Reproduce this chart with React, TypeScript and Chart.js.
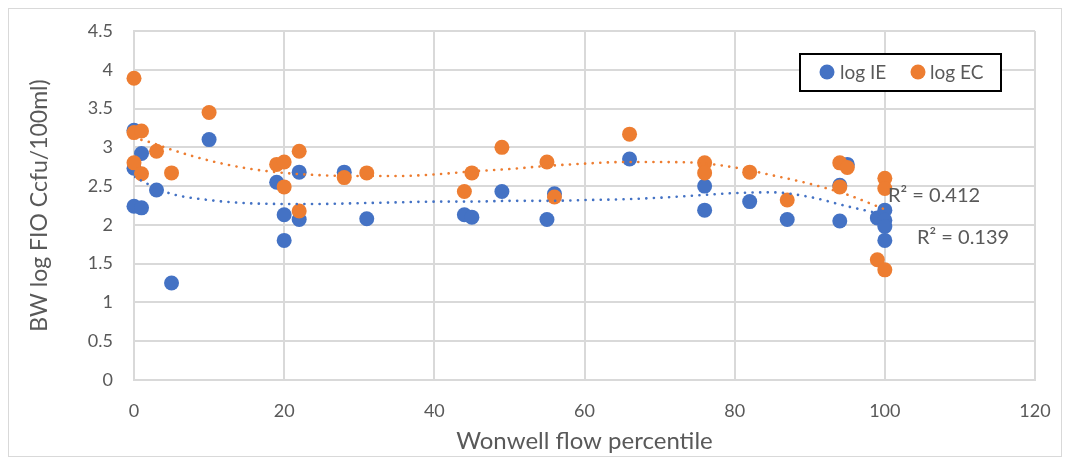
import React, { useEffect, useRef } from "react";
import { Chart, registerables } from "chart.js";

Chart.register(...registerables);

// ---- data ----
const ieX = [0, 0, 0, 1, 1, 3, 5, 10, 19, 20, 20, 22, 22, 28, 31, 44, 45, 49, 55, 56, 66, 76, 76, 82, 87, 94, 94, 95, 99, 100, 100, 100, 100];
const ieY = [3.22, 2.73, 2.24, 2.22, 2.92, 2.45, 1.25, 3.1, 2.55, 2.13, 1.8, 2.68, 2.07, 2.68, 2.08, 2.13, 2.1, 2.43, 2.07, 2.4, 2.85, 2.5, 2.19, 2.3, 2.07, 2.51, 2.05, 2.78, 2.09, 2.19, 2.06, 1.98, 1.8];

const ecX = [0, 0, 1, 0, 1, 3, 5, 10, 19, 20, 20, 22, 22, 28, 31, 44, 45, 49, 55, 56, 66, 76, 76, 82, 87, 94, 94, 95, 99, 100, 100, 100];
const ecY = [3.89, 3.19, 3.21, 2.8, 2.66, 2.95, 2.67, 3.45, 2.78, 2.81, 2.49, 2.95, 2.18, 2.61, 2.67, 2.43, 2.67, 3.0, 2.81, 2.36, 3.17, 2.8, 2.67, 2.68, 2.32, 2.8, 2.49, 2.74, 1.55, 2.6, 2.47, 1.42];

// trendline values
const trendX = [0, 2, 5, 10, 15, 20, 25, 30, 35, 40, 45, 50, 55, 60, 65, 70, 75, 80, 85, 90, 95, 100];
const ecTrend = [3.12, 3.07, 2.97, 2.83, 2.73, 2.67, 2.64, 2.63, 2.63, 2.65, 2.69, 2.72, 2.76, 2.79, 2.81, 2.81, 2.8, 2.74, 2.64, 2.53, 2.39, 2.2];
const ieTrend = [2.62, 2.52, 2.4, 2.32, 2.28, 2.27, 2.27, 2.28, 2.29, 2.3, 2.3, 2.31, 2.31, 2.32, 2.33, 2.35, 2.38, 2.41, 2.42, 2.36, 2.24, 2.13];

const yTickLabels = ["0", "0.5", "1", "1.5", "2", "2.5", "3", "3.5", "4", "4.5"];
const xTickLabels = ["0", "20", "40", "60", "80", "100", "120"];
const seriesNames = ["log IE", "log EC"];
const r2Labels = ["R\u00B2 = 0.412", "R\u00B2 = 0.139"];
const xTitle = "Wonwell flow percentile";
const yTitle = "BW log FIO Ccfu/100ml)";

const BLUE = "#4472C4";
const ORANGE = "#ED7D31";
const GRID = "#d9d9d9";
const TEXT = "#595959";
const FONT = "Lato, 'Open Sans', sans-serif";

const toPts = (xs: number[], ys: number[]) => xs.map((x, i) => ({ x, y: ys[i] }));

const overlayPlugin = {
  id: "overlay",
  afterDraw(chart: any) {
    const ctx = chart.ctx as CanvasRenderingContext2D;
    ctx.save();
    // legend box
    ctx.strokeStyle = "#000";
    ctx.lineWidth = 2;
    ctx.fillStyle = "#fff";
    ctx.fillRect(791, 45, 201, 37);
    ctx.strokeRect(791, 45, 201, 37);
    ctx.font = `19px ${FONT}`;
    ctx.textBaseline = "middle";
    ctx.textAlign = "left";
    const items = [
      { c: BLUE, cx: 818, tx: 831, label: seriesNames[0] },
      { c: ORANGE, cx: 909, tx: 921, label: seriesNames[1] },
    ];
    for (const it of items) {
      ctx.beginPath();
      ctx.fillStyle = it.c;
      ctx.arc(it.cx, 63, 7.5, 0, Math.PI * 2);
      ctx.fill();
      ctx.fillStyle = TEXT;
      ctx.fillText(it.label, it.tx, 64);
    }
    // R² labels
    ctx.font = `20px ${FONT}`;
    ctx.fillStyle = TEXT;
    ctx.fillText(r2Labels[0], 879, 187);
    ctx.fillText(r2Labels[1], 908, 229);
    ctx.restore();
  },
};

export default function App() {
  const ref = useRef<HTMLCanvasElement>(null);
  useEffect(() => {
    if (!ref.current) return;
    const chart = new Chart(ref.current, {
      type: "scatter",
      data: {
        datasets: [
          {
            type: "line",
            label: "trend EC",
            data: toPts(trendX, ecTrend),
            borderColor: ORANGE,
            borderWidth: 2.6,
            borderDash: [0.1, 7.5],
            borderCapStyle: "round",
            pointRadius: 0,
            fill: false,
            cubicInterpolationMode: "monotone",
            order: 0,
          } as any,
          {
            type: "line",
            label: "trend IE",
            data: toPts(trendX, ieTrend),
            borderColor: BLUE,
            borderWidth: 2.6,
            borderDash: [0.1, 7.5],
            borderCapStyle: "round",
            pointRadius: 0,
            fill: false,
            cubicInterpolationMode: "monotone",
            order: 1,
          } as any,
          {
            label: seriesNames[1],
            data: toPts(ecX, ecY),
            backgroundColor: ORANGE,
            borderColor: ORANGE,
            borderWidth: 0,
            pointRadius: 7.5,
            clip: false,
            order: 2,
          } as any,
          {
            label: seriesNames[0],
            data: toPts(ieX, ieY),
            backgroundColor: BLUE,
            borderColor: BLUE,
            borderWidth: 0,
            pointRadius: 7.5,
            clip: false,
            order: 3,
          } as any,
        ],
      },
      options: {
        responsive: false,
        animation: false,
        layout: { padding: { top: 22, right: 26, left: 0, bottom: 0 } },
        plugins: { legend: { display: false }, tooltip: { enabled: false } },
        scales: {
          x: {
            type: "linear",
            min: 0,
            max: 120,
            ticks: {
              stepSize: 20,
              color: TEXT,
              font: { family: FONT, size: 18 },
              padding: 20,
              callback: (_v: any, i: number) => xTickLabels[i],
            },
            grid: { color: GRID, lineWidth: 2, drawTicks: false },
            border: { color: GRID, width: 2 },
            title: { display: true, text: xTitle, color: TEXT, font: { family: FONT, size: 24 }, padding: { top: 0, bottom: 0 } },
            afterFit: (s: any) => {
              s.height = 76;
              s.paddingLeft = 0;
              s.paddingRight = 0;
            },
          },
          y: {
            min: 0,
            max: 4.5,
            ticks: {
              stepSize: 0.5,
              color: TEXT,
              font: { family: FONT, size: 18 },
              padding: 21,
              callback: (_v: any, i: number) => yTickLabels[i],
            },
            grid: { color: GRID, lineWidth: 2, drawTicks: false },
            border: { color: GRID, width: 2 },
            title: { display: true, text: yTitle, color: TEXT, font: { family: FONT, size: 23 }, padding: { top: 17, bottom: 17 } },
            afterFit: (s: any) => {
              s.width = 125;
              s.paddingTop = 0;
              s.paddingBottom = 0;
            },
          },
        },
      },
      plugins: [overlayPlugin],
    });
    return () => chart.destroy();
  }, []);
  return (
    <div style={{ position: "relative", width: 1052, height: 447, border: "1px solid #d9d9d9", background: "#fff" }}>
      <canvas ref={ref} width={1052} height={447} style={{ display: "block" }} />
    </div>
  );
}
